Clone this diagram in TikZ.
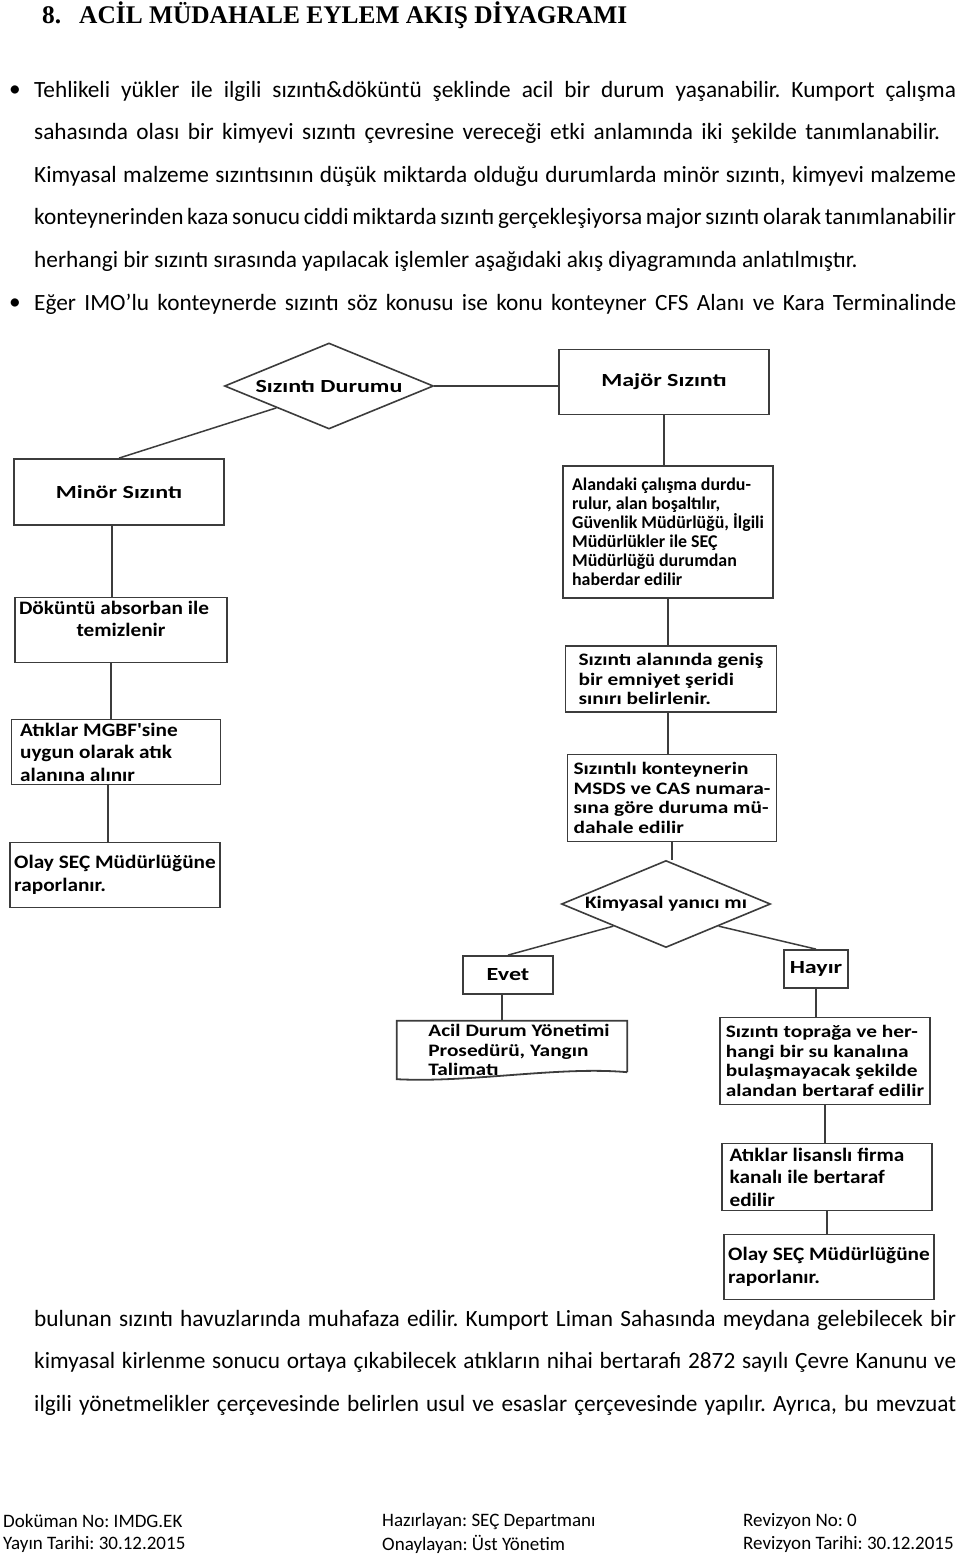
\documentclass[tikz,border=0pt]{standalone}
\usepackage{fontspec}
\setmainfont{Carlito}
\newfontfamily\headfont{Liberation Serif}
\newfontfamily\stretchT[FakeStretch=1.3]{Carlito}
\newfontfamily\stretchA[FakeStretch=1.22]{Carlito}
\newfontfamily\stretchB[FakeStretch=1.12]{Carlito}
\usetikzlibrary{shapes.geometric}

\definecolor{linegray}{HTML}{3C3C3C}

%% Fonts of the page
\newcommand\bodyfont{\fontsize{23.3}{28}\selectfont}
\newcommand\footfont{\fontsize{19}{22}\selectfont}
\newcommand\titlefont{\stretchT\bfseries\fontsize{18.5}{20}\selectfont}
\newcommand\chartfont{\stretchA\bfseries\fontsize{17.5}{19.5}\selectfont}
\newcommand\chartmid{\bfseries\fontsize{17.9}{19}\selectfont}
\newcommand\chartbig{\stretchB\bfseries\fontsize{19}{22.5}\selectfont}

\tikzset{
  headline/.style={anchor=west, inner sep=0pt, font=\headfont\bfseries\fontsize{25.4}{28}\selectfont},
  textline/.style={anchor=west, inner sep=0pt, font=\bodyfont},
  footline/.style={anchor=west, inner sep=0pt, font=\footfont},
  flowbox/.style={draw=linegray, line width=1.8pt, rectangle, inner ysep=0pt,
    inner xsep=4pt, align=left, font=\chartfont},
  titlebox/.style={flowbox, align=center, font=\titlefont},
  decision/.style={draw=linegray, line width=1.6pt, diamond, aspect=2.4,
    inner sep=0pt, font=\titlefont},
  link/.style={draw=linegray, line width=1.5pt}
}

\begin{document}
\frenchspacing
\begin{tikzpicture}[x=1pt,y=-1pt]

	%% Page frame, as large as the scanned page
	\useasboundingbox[fill=white] (0,0) rectangle (960,1556);

	%% Heading
	\node[headline] (hnum) at (42,15) {8.};
	\node[headline] (htitle) at (79,15) {ACİL MÜDAHALE EYLEM AKIŞ DİYAGRAMI};

	%% Text above the chart
	\node[textline] (bul1) at (9,91) {•};
	\node[textline] (t1) at (34,91) {\makebox[922pt][s]{Tehlikeli yükler ile ilgili sızıntı\&döküntü şeklinde acil bir durum yaşanabilir. Kumport çalışma}};
	\node[textline] (t2) at (34,133) {\makebox[906pt][s]{sahasında olası bir kimyevi sızıntı çevresine vereceği etki anlamında iki şekilde tanımlanabilir.}};
	\node[textline] (t3) at (34,176) {\makebox[922pt][s]{Kimyasal malzeme sızıntısının düşük miktarda olduğu durumlarda minör sızıntı, kimyevi malzeme}};
	\node[textline] (t4) at (34,218) {\makebox[922pt][s]{konteynerinden kaza sonucu ciddi miktarda sızıntı gerçekleşiyorsa major sızıntı olarak tanımlanabilir}};
	\node[textline] (t5) at (34,261) {herhangi bir sızıntı sırasında yapılacak işlemler aşağıdaki akış diyagramında anlatılmıştır.};
	\node[textline] (bul2) at (9,304) {•};
	\node[textline] (t6) at (34,304) {\makebox[922pt][s]{Eğer IMO’lu konteynerde sızıntı söz konusu ise konu konteyner CFS Alanı ve Kara Terminalinde}};

	%% Text below the chart
	\node[textline] (t7) at (34,1320) {\makebox[922pt][s]{bulunan sızıntı havuzlarında muhafaza edilir. Kumport Liman Sahasında meydana gelebilecek bir}};
	\node[textline] (t8) at (34,1362) {\makebox[922pt][s]{kimyasal kirlenme sonucu ortaya çıkabilecek atıkların nihai bertarafı 2872 sayılı Çevre Kanunu ve}};
	\node[textline] (t9) at (34,1405) {\makebox[922pt][s]{ilgili yönetmelikler çerçevesinde belirlen usul ve esaslar çerçevesinde yapılır. Ayrıca, bu mevzuat}};

	%% Footer
	\node[footline] (f1) at (3,1521) {Doküman No: IMDG.EK};
	\node[footline] (f2) at (3,1544) {Yayın Tarihi: 30.12.2015};
	\node[footline] (f3) at (382,1521) {Hazırlayan: SEÇ Departmanı};
	\node[footline] (f4) at (382,1544) {Onaylayan: Üst Yönetim};
	\node[footline] (f5) at (743,1521) {Revizyon No: 0};
	\node[footline] (f6) at (743,1544) {Revizyon Tarihi: 30.12.2015};

	%% The chart: first decision
	\node[decision, minimum width=209, minimum height=86] (durum) at (329,386) {Sızıntı Durumu};
	\node[titlebox, minimum width=210, minimum height=65] (major) at (664,382) {Majör Sızıntı};
	\node[titlebox, minimum width=210, minimum height=66] (minor) at (119,492) {Minör Sızıntı};

	%% Left column, minor leak
	\node[flowbox, align=center, font=\chartbig, minimum width=210, minimum height=65] (dokuntu) at (121,630) {Döküntü absorban ile\hspace*{14pt}\\temizlenir\\\mbox{}};
	\node[flowbox, font=\chartbig, minimum width=209, minimum height=65] (atik) at (116,752) {Atıklar MGBF'sine\hspace*{34pt}\\uygun olarak atık\\alanına alınır};
	\node[flowbox, font=\chartbig, minimum width=210, minimum height=65] (olayA) at (115,875) {Olay SEÇ Müdürlüğüne\\raporlanır.};

	%% Right column, major leak
	\node[flowbox, font=\chartmid, minimum width=210, minimum height=132] (alan) at (668,532) {Alandaki çalışma durdu-\\rulur, alan boşaltılır,\\Güvenlik Müdürlüğü, İlgili\\Müdürlükler ile SEÇ\\Müdürlüğü durumdan\\haberdar edilir};
	\node[flowbox, minimum width=211, minimum height=66] (serit) at (671,679) {Sızıntı alanında geniş\\bir emniyet şeridi\\sınırı belirlenir.};
	\node[flowbox, minimum width=209, minimum height=87] (msds) at (672,798) {Sızıntılı konteynerin\\MSDS ve CAS numara-\\sına göre duruma mü-\\dahale edilir};

	%% Second decision
	\node[decision, font=\chartfont, minimum width=209, minimum height=87] (yanici) at (666,904) {Kimyasal yanıcı mı};
	\node[titlebox, minimum width=90, minimum height=38] (evet) at (508,975) {Evet};
	\node[titlebox, minimum width=64, minimum height=38] (hayir) at (816,969) {Hayır};

	\node[font=\chartfont, align=left, inner sep=0pt, minimum width=230, minimum height=58] (acil) at (512,1050) {\hspace*{14pt}Acil Durum Yönetimi\\\hspace*{14pt}Prosedürü, Yangın\\\hspace*{14pt}Talimatı};
	\node[flowbox, minimum width=210, minimum height=87] (toprak) at (825,1061) {Sızıntı toprağa ve her-\\hangi bir su kanalına\\bulaşmayacak şekilde\\alandan bertaraf edilir};
	\node[flowbox, font=\chartbig, minimum width=210, minimum height=67] (lisans) at (827,1177) {Atıklar lisanslı firma\hspace*{20pt}\\kanalı ile bertaraf\\edilir};
	\node[flowbox, font=\chartbig, minimum width=209, minimum height=65] (olayB) at (829,1267) {Olay SEÇ Müdürlüğüne\\raporlanır.};

	%% Outline of the document-shaped box
	\draw[draw=linegray, line width=1.8pt]
		([yshift=7]acil.south east) -- (acil.north east) -- (acil.north west)
		-- (acil.south west) .. controls (470,1083) and (560,1066) .. ([yshift=7]acil.south east);

	%% Connectors
	\draw[link] (durum.east) -- (durum.east -| major.west);
	\draw[link] (durum.south west) -- (minor.north);
	\draw[link] ([xshift=-7]minor.south) -- ([xshift=-7]minor.south |- dokuntu.north);
	\draw[link] ([xshift=-10]dokuntu.south) -- ([xshift=-10]dokuntu.south |- atik.north);
	\draw[link] ([xshift=-8]atik.south) -- ([xshift=-8]atik.south |- olayA.north);
	\draw[link] (major.south) -- (major.south |- alan.north);
	\draw[link] (alan.south) -- (alan.south |- serit.north);
	\draw[link] ([xshift=-3]serit.south) -- ([xshift=-3]serit.south |- msds.north);
	\draw[link] (msds.south) -- (msds.south |- yanici.north);
	\draw[link] (yanici.south west) -- (evet.north);
	\draw[link] (yanici.south east) -- (hayir.north);
	\draw[link] ([xshift=-6]evet.south) -- ([xshift=-6]evet.south |- acil.north);
	\draw[link] (hayir.south) -- (hayir.south |- toprak.north);
	\draw[link] (toprak.south) -- (toprak.south |- lisans.north);
	\draw[link] (lisans.south) -- (lisans.south |- olayB.north);

\end{tikzpicture}
\end{document}
